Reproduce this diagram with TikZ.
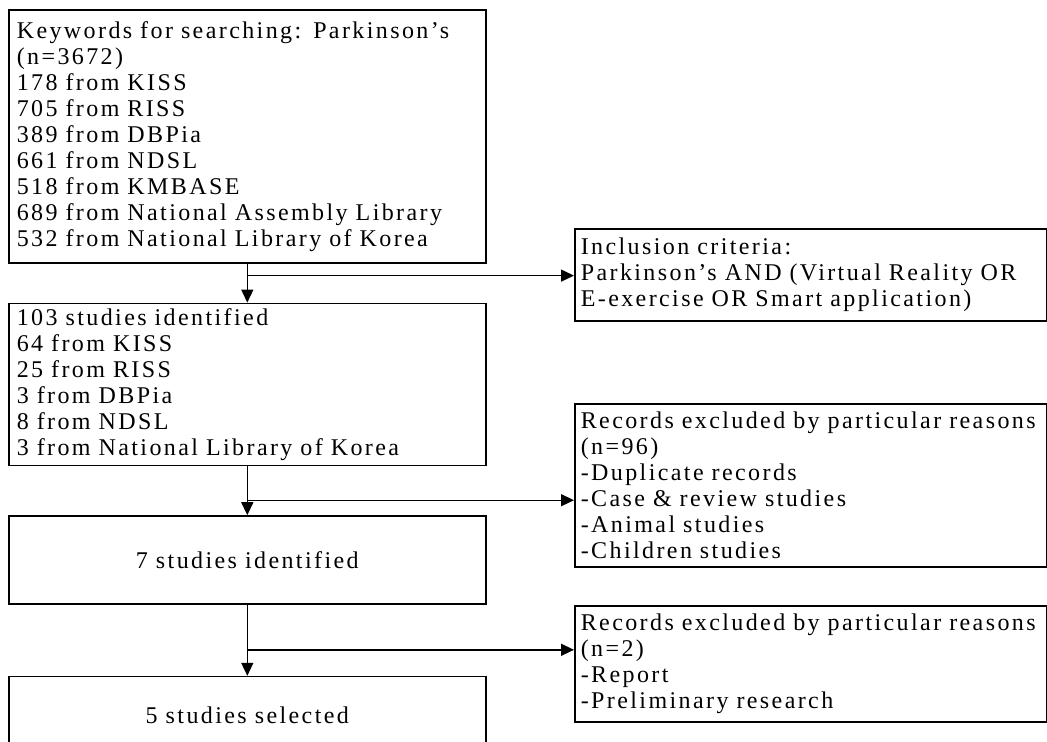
\documentclass[tikz,border=0pt]{standalone}
\usepackage{fontspec}
\setmainfont{Liberation Serif}
\newfontfamily\flowfont[LetterSpace=10,WordSpace=2.2]{Liberation Serif}
\newcommand\flowtext{\flowfont\fontsize{12pt}{13pt}\selectfont}
\usetikzlibrary{arrows.meta,positioning}

\begin{document}
\begin{tikzpicture}[
  x=0.5pt, y=-0.5pt, line width=0.7pt,
  block/.style={draw, line width=0.8pt, rectangle, inner xsep=4pt, inner ysep=2pt, text width=230.5pt, align=left, font=\flowtext},
  sidebox/.style={block, inner xsep=3pt, text width=230pt},
  >={Triangle[length=6.5pt,width=6pt]}
]
\path[use as bounding box, clip] (0,0) rectangle (1047,741);

% Main column
\node[block, anchor=north west, minimum height=126.5pt] (search) at (8,9) {Keywords for searching: Parkinson’s\\(n=3672)\\178 from KISS\\705 from RISS\\389 from DBPia\\661 from NDSL\\518 from KMBASE\\689 from National Assembly Library\\532 from National Library of Korea};
\node[block, below=19.5pt of search, minimum height=81pt] (ident) {103 studies identified\\64 from KISS\\25 from RISS\\3 from DBPia\\8 from NDSL\\3 from National Library of Korea};
\node[block, below=24.5pt of ident, minimum height=44pt, align=center] (screen) {7 studies identified};
\node[block, below=35.5pt of screen, minimum height=39pt, align=center] (select) {5 studies selected};

% Side boxes
\node[sidebox, anchor=north west, minimum height=46pt] (incl) at (574,228) {Inclusion criteria:\\Parkinson’s AND (Virtual Reality OR\\E-exercise OR Smart application)};
\node[sidebox, anchor=north west, minimum height=81.5pt] (excla) at (574,403) {Records excluded by particular reasons\\(n=96)\\-Duplicate records\\-Case \& review studies\\-Animal studies\\-Children studies};
\node[sidebox, anchor=north west, minimum height=58pt] (exclb) at (574,605) {Records excluded by particular reasons\\(n=2)\\-Report\\-Preliminary research};

% Branch points
\coordinate (b1) at ([yshift=-6pt]search.south);
\coordinate (b2) at ([yshift=-17pt]ident.south);
\coordinate (b3) at ([yshift=-22.5pt]screen.south);

% Connections
\draw[->] (search) -- (ident);
\draw[->] (ident) -- (screen);
\draw[->] (screen) -- (select);
\draw[->] (b1) -- (b1 -| incl.west);
\draw[->] (b2) -- (b2 -| excla.west);
\draw[->] (b3) -- (b3 -| exclb.west);

\end{tikzpicture}
\end{document}
